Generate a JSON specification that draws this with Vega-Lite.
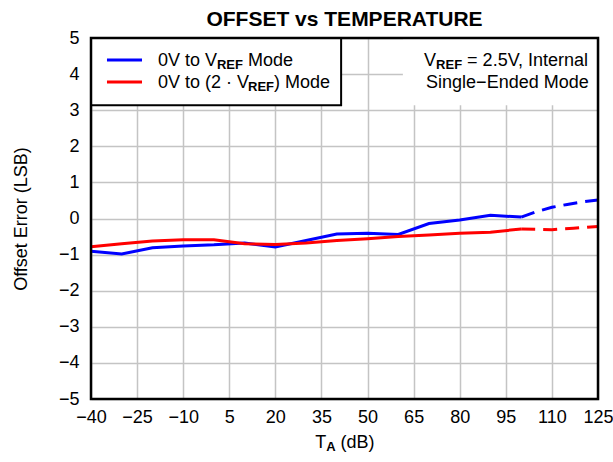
{
  "$schema": "https://vega.github.io/schema/vega-lite/v6.json",
  "width": 507,
  "height": 361,
  "autosize": {"type": "none"},
  "padding": {"left": 91, "top": 38, "right": 15, "bottom": 63},
  "background": "white",
  "title": {"text": "OFFSET vs TEMPERATURE", "font": "Liberation Sans", "fontSize": 21, "fontWeight": "bold", "color": "black", "anchor": "middle", "baseline": "alphabetic", "offset": 4, "dy": 22},
  "config": {
    "view": {"stroke": null},
    "font": "Liberation Sans",
    "axis": {"domain": false, "ticks": false, "grid": true, "gridColor": "#c4c4c4", "gridWidth": 1.5, "gridOpacity": 1, "labelFont": "Liberation Sans", "labelFontSize": 18, "labelColor": "black", "labelOverlap": false, "labelFlush": false, "titleFont": "Liberation Sans", "titleFontSize": 18, "titleFontWeight": "normal", "titleColor": "black"}
  },
  "datasets": {
    "solid": [
      {"s": "a", "t": -40, "v": -0.91}, {"s": "a", "t": -30, "v": -0.98}, {"s": "a", "t": -20, "v": -0.81}, {"s": "a", "t": -10, "v": -0.76}, {"s": "a", "t": 0, "v": -0.73}, {"s": "a", "t": 10, "v": -0.68}, {"s": "a", "t": 20, "v": -0.79}, {"s": "a", "t": 30, "v": -0.61}, {"s": "a", "t": 40, "v": -0.43}, {"s": "a", "t": 50, "v": -0.41}, {"s": "a", "t": 60, "v": -0.44}, {"s": "a", "t": 70, "v": -0.14}, {"s": "a", "t": 80, "v": -0.04}, {"s": "a", "t": 90, "v": 0.09}, {"s": "a", "t": 100, "v": 0.04},
      {"s": "b", "t": -40, "v": -0.78}, {"s": "b", "t": -30, "v": -0.70}, {"s": "b", "t": -20, "v": -0.62}, {"s": "b", "t": -10, "v": -0.59}, {"s": "b", "t": 0, "v": -0.59}, {"s": "b", "t": 10, "v": -0.70}, {"s": "b", "t": 20, "v": -0.72}, {"s": "b", "t": 30, "v": -0.68}, {"s": "b", "t": 40, "v": -0.61}, {"s": "b", "t": 50, "v": -0.56}, {"s": "b", "t": 60, "v": -0.50}, {"s": "b", "t": 70, "v": -0.46}, {"s": "b", "t": 80, "v": -0.41}, {"s": "b", "t": 90, "v": -0.38}, {"s": "b", "t": 100, "v": -0.29}
    ],
    "dashed": [
      {"s": "a", "t": 100, "v": 0.04}, {"s": "a", "t": 105, "v": 0.19}, {"s": "a", "t": 110, "v": 0.31}, {"s": "a", "t": 115, "v": 0.39}, {"s": "a", "t": 120, "v": 0.46}, {"s": "a", "t": 125, "v": 0.51},
      {"s": "b", "t": 100, "v": -0.29}, {"s": "b", "t": 105, "v": -0.30}, {"s": "b", "t": 110, "v": -0.31}, {"s": "b", "t": 117, "v": -0.27}, {"s": "b", "t": 125, "v": -0.22}
    ],
    "boxes": [
      {"box": "legend", "x1": -40, "x2": 41.4, "y1": 3.14, "y2": 5},
      {"box": "note", "x1": 61.5, "x2": 125, "y1": 3.14, "y2": 5}
    ],
    "keys": [
      {"s": "a", "x1": -34.8, "x2": -23.4, "y": 4.39},
      {"s": "b", "x1": -34.8, "x2": -23.4, "y": 3.78}
    ],
    "texts": [
      {"x": -18.2, "y": 4.236, "label": "0V to V"},
      {"x": 11.1, "y": 4.236, "label": "Mode"},
      {"x": -18.2, "y": 3.611, "label": "0V to (2 · V"},
      {"x": 19.56, "y": 3.611, "label": ") Mode"},
      {"x": 68.4, "y": 4.236, "label": "V"},
      {"x": 82.4, "y": 4.236, "label": "= 2.5V, Internal"},
      {"x": 69.05, "y": 3.611, "label": "Single−Ended Mode"},
      {"x": 33.0, "y": -6.36, "label": "T"},
      {"x": 41.23, "y": -6.36, "label": "(dB)"}
    ],
    "subs": [
      {"x": 1.0, "y": 4.153, "label": "REF"},
      {"x": 11.1, "y": 3.528, "label": "REF"},
      {"x": 72.3, "y": 4.153, "label": "REF"},
      {"x": 36.6, "y": -6.44, "label": "A"}
    ],
    "frame": [{"x1": -40, "x2": 125, "y1": -5, "y2": 5}]
  },
  "layer": [
    {
      "data": {"name": "solid"},
      "mark": {"type": "line", "strokeWidth": 3},
      "encoding": {
        "x": {"field": "t", "type": "quantitative", "scale": {"domain": [-40, 125], "nice": false, "zero": false}, "axis": {"values": [-40, -25, -10, 5, 20, 35, 50, 65, 80, 95, 110, 125], "title": null, "labelPadding": 9}},
        "y": {"field": "v", "type": "quantitative", "scale": {"domain": [-5, 5], "nice": false, "zero": false}, "axis": {"values": [-5, -4, -3, -2, -1, 0, 1, 2, 3, 4, 5], "tickCount": 11, "title": "Offset Error (LSB)", "labelPadding": 12, "titlePadding": 28}},
        "color": {"field": "s", "type": "nominal", "scale": {"domain": ["a", "b"], "range": ["#0000ff", "#ff0000"]}, "legend": null},
        "detail": {"field": "s"}
      }
    },
    {
      "data": {"name": "dashed"},
      "mark": {"type": "line", "strokeWidth": 3, "strokeDash": [14, 8]},
      "encoding": {
        "x": {"field": "t", "type": "quantitative"},
        "y": {"field": "v", "type": "quantitative"},
        "color": {"field": "s", "type": "nominal", "legend": null}
      }
    },
    {
      "data": {"name": "boxes"},
      "mark": {"type": "rect", "fill": "white"},
      "encoding": {
        "x": {"field": "x1", "type": "quantitative"},
        "x2": {"field": "x2"},
        "y": {"field": "y1", "type": "quantitative", "axis": {"values": [-5, -4, -3, -2, -1, 0, 1, 2, 3, 4, 5], "tickCount": 11, "title": "Offset Error (LSB)"}},
        "y2": {"field": "y2"},
        "stroke": {"field": "box", "type": "nominal", "scale": {"domain": ["legend", "note"], "range": ["black", "white"]}, "legend": null},
        "strokeWidth": {"field": "box", "type": "nominal", "scale": {"domain": ["legend", "note"], "range": [2, 0]}, "legend": null}
      }
    },
    {
      "data": {"name": "keys"},
      "mark": {"type": "rule", "strokeWidth": 3},
      "encoding": {
        "x": {"field": "x1", "type": "quantitative"},
        "x2": {"field": "x2"},
        "y": {"field": "y", "type": "quantitative", "axis": {"values": [-5, -4, -3, -2, -1, 0, 1, 2, 3, 4, 5], "tickCount": 11, "title": "Offset Error (LSB)"}},
        "color": {"field": "s", "type": "nominal", "legend": null}
      }
    },
    {
      "data": {"name": "texts"},
      "mark": {"type": "text", "align": "left", "baseline": "alphabetic", "fontSize": 18, "font": "Liberation Sans", "color": "black"},
      "encoding": {
        "x": {"field": "x", "type": "quantitative"},
        "y": {"field": "y", "type": "quantitative", "axis": {"values": [-5, -4, -3, -2, -1, 0, 1, 2, 3, 4, 5], "tickCount": 11, "title": "Offset Error (LSB)"}},
        "text": {"field": "label"}
      }
    },
    {
      "data": {"name": "subs"},
      "mark": {"type": "text", "align": "left", "baseline": "alphabetic", "fontSize": 13, "fontWeight": "bold", "font": "Liberation Sans", "color": "black"},
      "encoding": {
        "x": {"field": "x", "type": "quantitative"},
        "y": {"field": "y", "type": "quantitative", "axis": {"values": [-5, -4, -3, -2, -1, 0, 1, 2, 3, 4, 5], "tickCount": 11, "title": "Offset Error (LSB)"}},
        "text": {"field": "label"}
      }
    },
    {
      "data": {"name": "frame"},
      "mark": {"type": "rect", "fill": null, "fillOpacity": 0, "stroke": "black", "strokeWidth": 2.5},
      "encoding": {
        "x": {"field": "x1", "type": "quantitative"},
        "x2": {"field": "x2"},
        "y": {"field": "y1", "type": "quantitative", "axis": {"values": [-5, -4, -3, -2, -1, 0, 1, 2, 3, 4, 5], "tickCount": 11, "title": "Offset Error (LSB)"}},
        "y2": {"field": "y2"}
      }
    }
  ]
}
